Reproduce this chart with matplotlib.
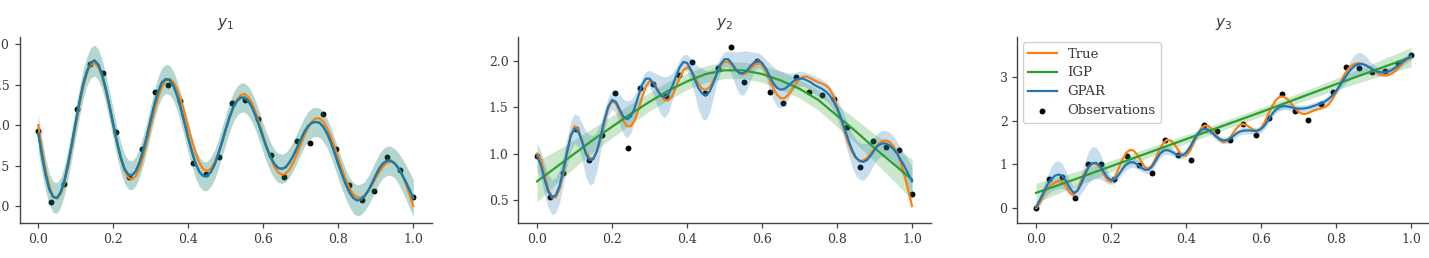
import numpy as np
import matplotlib
matplotlib.use("Agg")
import matplotlib.pyplot as plt

plt.rcParams['font.family'] = ['DejaVu Serif']
plt.rcParams['mathtext.fontset'] = 'dejavusans'

# ---------------- data ----------------
titles = ["$y_1$", "$y_2$", "$y_3$"]
legend_labels = ["True", "IGP", "GPAR", "Observations"]

x_grid = np.linspace(0, 1, 101)
x_obs = np.linspace(0, 1, 30)
x_igp = np.linspace(0, 1, 21)
x_igp3 = np.linspace(0, 1, 11)

true1 = [0.000, -0.303, -0.565, -0.763, -0.881, -0.909, -0.849, -0.710, -0.507, -0.262,
         0.000, 0.253, 0.474, 0.642, 0.743, 0.769, 0.720, 0.603, 0.431, 0.223,
         -0.002, -0.220, -0.411, -0.557, -0.646, -0.671, -0.630, -0.531, -0.383, -0.203,
         -0.008, 0.182, 0.348, 0.475, 0.553, 0.573, 0.536, 0.446, 0.313, 0.151,
         -0.026, -0.198, -0.351, -0.469, -0.543, -0.567, -0.540, -0.466, -0.353, -0.214,
         -0.063, 0.085, 0.215, 0.314, 0.372, 0.385, 0.350, 0.272, 0.159, 0.021,
         -0.130, -0.278, -0.410, -0.516, -0.585, -0.613, -0.600, -0.547, -0.463, -0.357,
         -0.240, -0.126, -0.028, 0.045, 0.084, 0.084, 0.044, -0.033, -0.141, -0.270,
         -0.410, -0.548, -0.675, -0.779, -0.853, -0.892, -0.897, -0.868, -0.813, -0.739,
         -0.656, -0.576, -0.509, -0.465, -0.451, -0.470, -0.524, -0.610, -0.724, -0.857,
         -1.000]
gpar1 = [-0.10, -0.38, -0.62, -0.80, -0.89, -0.90, -0.83, -0.68, -0.47, -0.22,
         0.04, 0.29, 0.51, 0.67, 0.77, 0.80, 0.75, 0.63, 0.45, 0.24,
         0.01, -0.21, -0.40, -0.54, -0.61, -0.62, -0.57, -0.46, -0.31, -0.13,
         0.07, 0.26, 0.42, 0.53, 0.57, 0.56, 0.49, 0.37, 0.21, 0.03,
         -0.16, -0.33, -0.48, -0.58, -0.63, -0.63, -0.58, -0.49, -0.36, -0.21,
         -0.05, 0.10, 0.22, 0.30, 0.34, 0.34, 0.30, 0.22, 0.11, -0.02,
         -0.16, -0.29, -0.40, -0.48, -0.53, -0.54, -0.52, -0.46, -0.38, -0.28,
         -0.18, -0.08, -0.01, 0.03, 0.04, 0.03, -0.02, -0.10, -0.21, -0.34,
         -0.48, -0.61, -0.73, -0.83, -0.90, -0.93, -0.92, -0.88, -0.81, -0.72,
         -0.62, -0.53, -0.47, -0.44, -0.44, -0.47, -0.53, -0.61, -0.70, -0.80,
         -0.90]
gpar1_hw = [0.22, 0.21, 0.20, 0.19, 0.19, 0.19, 0.18, 0.18, 0.18, 0.18,
            0.18, 0.18, 0.18, 0.18, 0.19, 0.19, 0.19, 0.18, 0.18, 0.18,
            0.18, 0.18, 0.18, 0.18, 0.18, 0.18, 0.18, 0.18, 0.18, 0.18,
            0.18, 0.18, 0.18, 0.18, 0.18, 0.18, 0.18, 0.18, 0.18, 0.18,
            0.18, 0.18, 0.18, 0.18, 0.18, 0.18, 0.18, 0.18, 0.18, 0.18,
            0.18, 0.18, 0.18, 0.18, 0.18, 0.18, 0.18, 0.18, 0.18, 0.18,
            0.18, 0.18, 0.18, 0.18, 0.18, 0.18, 0.18, 0.18, 0.18, 0.18,
            0.18, 0.18, 0.18, 0.18, 0.18, 0.18, 0.18, 0.18, 0.18, 0.18,
            0.18, 0.18, 0.18, 0.18, 0.19, 0.19, 0.19, 0.18, 0.18, 0.18,
            0.18, 0.18, 0.18, 0.18, 0.18, 0.18, 0.19, 0.20, 0.21, 0.22,
            0.23]
obs1 = [-0.07, -0.95, -0.73, 0.20, 0.76, 0.65, -0.09, -0.64, -0.30, 0.41,
        0.50, 0.30, -0.47, -0.60, -0.39, 0.27, 0.31, 0.07, -0.37, -0.64,
        -0.20, -0.22, 0.14, -0.30, -0.74, -0.92, -0.81, -0.40, -0.55, -0.89]

true2 = [1.000, 0.941, 0.773, 0.612, 0.525, 0.527, 0.616, 0.784, 1.002, 1.200,
         1.296, 1.261, 1.144, 1.021, 0.950, 0.951, 1.027, 1.167, 1.340, 1.491,
         1.565, 1.542, 1.454, 1.357, 1.297, 1.295, 1.356, 1.468, 1.605, 1.724,
         1.783, 1.769, 1.703, 1.627, 1.577, 1.573, 1.621, 1.710, 1.814, 1.898,
         1.931, 1.904, 1.834, 1.756, 1.701, 1.687, 1.718, 1.786, 1.872, 1.950,
         1.994, 1.992, 1.954, 1.905, 1.867, 1.856, 1.876, 1.918, 1.961, 1.980,
         1.957, 1.891, 1.799, 1.706, 1.635, 1.598, 1.599, 1.634, 1.693, 1.756,
         1.807, 1.832, 1.831, 1.812, 1.790, 1.771, 1.757, 1.738, 1.699, 1.626,
         1.517, 1.381, 1.240, 1.113, 1.015, 0.952, 0.921, 0.925, 0.954, 1.001,
         1.055, 1.103, 1.134, 1.143, 1.127, 1.083, 1.009, 0.901, 0.762, 0.600,
         0.433]
gpar2 = [0.97, 0.88, 0.72, 0.59, 0.53, 0.55, 0.65, 0.82, 1.02, 1.19,
         1.27, 1.24, 1.13, 1.00, 0.93, 0.94, 1.03, 1.19, 1.37, 1.51,
         1.58, 1.56, 1.48, 1.40, 1.37, 1.40, 1.49, 1.62, 1.74, 1.81,
         1.81, 1.76, 1.69, 1.63, 1.61, 1.64, 1.72, 1.83, 1.93, 1.99,
         1.98, 1.91, 1.81, 1.71, 1.65, 1.63, 1.67, 1.76, 1.87, 1.97,
         2.02, 2.02, 1.97, 1.91, 1.87, 1.87, 1.90, 1.95, 1.99, 2.01,
         1.98, 1.92, 1.84, 1.76, 1.71, 1.69, 1.70, 1.73, 1.77, 1.80,
         1.81, 1.81, 1.79, 1.77, 1.74, 1.72, 1.70, 1.67, 1.63, 1.57,
         1.49, 1.39, 1.27, 1.15, 1.04, 0.96, 0.92, 0.91, 0.93, 0.98,
         1.04, 1.09, 1.11, 1.11, 1.09, 1.05, 1.00, 0.93, 0.86, 0.78,
         0.70]
gpar2_hw = [0.14, 0.15, 0.17, 0.18, 0.19, 0.19, 0.18, 0.16, 0.15, 0.16,
            0.16, 0.17, 0.20, 0.25, 0.27, 0.26, 0.21, 0.15, 0.11, 0.10,
            0.10, 0.12, 0.16, 0.19, 0.20, 0.18, 0.14, 0.10, 0.08, 0.08,
            0.09, 0.12, 0.17, 0.21, 0.22, 0.20, 0.15, 0.10, 0.08, 0.08,
            0.09, 0.12, 0.17, 0.23, 0.27, 0.27, 0.23, 0.16, 0.10, 0.08,
            0.08, 0.09, 0.13, 0.19, 0.23, 0.24, 0.21, 0.15, 0.10, 0.08,
            0.08, 0.10, 0.14, 0.18, 0.20, 0.20, 0.18, 0.14, 0.10, 0.08,
            0.08, 0.08, 0.08, 0.09, 0.10, 0.10, 0.10, 0.10, 0.10, 0.10,
            0.11, 0.12, 0.14, 0.16, 0.18, 0.20, 0.20, 0.20, 0.18, 0.16,
            0.14, 0.14, 0.14, 0.14, 0.14, 0.14, 0.13, 0.13, 0.14, 0.15,
            0.16]
igp2 = [0.70, 0.85, 1.00, 1.15, 1.29, 1.43, 1.56, 1.68, 1.78, 1.86, 1.90,
        1.90, 1.86, 1.79, 1.70, 1.58, 1.41, 1.24, 1.06, 0.89, 0.72]
igp2_hw = [0.22, 0.18, 0.15, 0.13, 0.12, 0.11, 0.10, 0.10, 0.09, 0.09, 0.09,
           0.09, 0.09, 0.10, 0.10, 0.11, 0.12, 0.13, 0.15, 0.18, 0.22]
obs2 = [0.97, 0.53, 0.79, 1.27, 0.93, 1.20, 1.65, 1.06, 1.71, 1.75,
        1.62, 1.85, 1.99, 1.65, 1.92, 2.15, 1.77, 2.00, 1.67, 1.55,
        1.83, 1.67, 1.63, 1.59, 1.29, 0.85, 1.14, 1.07, 1.04, 0.56]

true3 = [0.000, 0.116, 0.307, 0.446, 0.527, 0.585, 0.624, 0.605, 0.498, 0.352,
         0.300, 0.411, 0.617, 0.811, 0.944, 1.012, 1.012, 0.935, 0.789, 0.644,
         0.600, 0.704, 0.905, 1.111, 1.261, 1.333, 1.319, 1.223, 1.075, 0.941,
         0.900, 0.988, 1.166, 1.358, 1.502, 1.567, 1.546, 1.450, 1.318, 1.213,
         1.201, 1.305, 1.486, 1.677, 1.822, 1.893, 1.881, 1.798, 1.673, 1.559,
         1.508, 1.545, 1.650, 1.778, 1.879, 1.925, 1.910, 1.852, 1.790, 1.771,
         1.833, 1.976, 2.163, 2.343, 2.479, 2.551, 2.555, 2.499, 2.403, 2.293,
         2.204, 2.159, 2.161, 2.194, 2.233, 2.262, 2.283, 2.312, 2.374, 2.488,
         2.655, 2.845, 3.025, 3.165, 3.258, 3.308, 3.321, 3.307, 3.270, 3.216,
         3.154, 3.096, 3.054, 3.037, 3.049, 3.089, 3.157, 3.245, 3.339, 3.410,
         3.433]
gpar3 = [0.03, 0.18, 0.36, 0.53, 0.66, 0.74, 0.77, 0.74, 0.62, 0.46,
         0.35, 0.39, 0.55, 0.76, 0.94, 1.03, 1.04, 0.97, 0.84, 0.71,
         0.64, 0.66, 0.76, 0.89, 1.00, 1.05, 1.05, 1.00, 0.93, 0.88,
         0.88, 0.96, 1.10, 1.24, 1.32, 1.33, 1.30, 1.25, 1.21, 1.21,
         1.27, 1.39, 1.55, 1.69, 1.79, 1.82, 1.79, 1.72, 1.64, 1.58,
         1.55, 1.56, 1.61, 1.68, 1.74, 1.77, 1.78, 1.78, 1.77, 1.77,
         1.81, 1.90, 2.03, 2.16, 2.26, 2.32, 2.34, 2.33, 2.31, 2.29,
         2.28, 2.28, 2.29, 2.31, 2.34, 2.37, 2.40, 2.44, 2.50, 2.58,
         2.68, 2.80, 2.94, 3.07, 3.18, 3.26, 3.30, 3.30, 3.27, 3.22,
         3.17, 3.13, 3.11, 3.11, 3.13, 3.17, 3.23, 3.30, 3.37, 3.43,
         3.48]
gpar3_hw = [0.10, 0.12, 0.16, 0.22, 0.28, 0.32, 0.32, 0.28, 0.22, 0.16,
            0.14, 0.16, 0.22, 0.30, 0.36, 0.38, 0.36, 0.30, 0.22, 0.15,
            0.10, 0.09, 0.09, 0.10, 0.12, 0.13, 0.12, 0.10, 0.09, 0.08,
            0.08, 0.09, 0.10, 0.10, 0.10, 0.10, 0.09, 0.08, 0.08, 0.08,
            0.08, 0.09, 0.10, 0.10, 0.10, 0.09, 0.08, 0.08, 0.08, 0.08,
            0.08, 0.08, 0.08, 0.08, 0.08, 0.08, 0.08, 0.08, 0.08, 0.08,
            0.08, 0.08, 0.08, 0.08, 0.08, 0.08, 0.08, 0.08, 0.08, 0.08,
            0.08, 0.08, 0.08, 0.08, 0.08, 0.08, 0.08, 0.08, 0.08, 0.08,
            0.08, 0.10, 0.13, 0.18, 0.23, 0.26, 0.27, 0.25, 0.20, 0.15,
            0.11, 0.10, 0.09, 0.09, 0.09, 0.09, 0.09, 0.09, 0.09, 0.09,
            0.09]
igp3 = [0.35, 0.65, 0.96, 1.27, 1.58, 1.89, 2.20, 2.52, 2.84, 3.15, 3.46]
igp3_hw = [0.22, 0.17, 0.13, 0.11, 0.10, 0.10, 0.10, 0.11, 0.13, 0.17, 0.22]
obs3 = [0.01, 0.66, 0.72, 0.24, 1.02, 1.02, 0.67, 1.19, 0.98, 0.80,
        1.57, 1.21, 1.10, 1.90, 1.76, 1.55, 1.93, 1.67, 2.06, 2.62,
        2.22, 2.03, 2.38, 2.67, 3.24, 3.21, 3.11, 3.14, 3.33, 3.50]

ylims = [(-1.21, 1.09), (0.25, 2.26), (-0.34, 3.92)]
yticks = [[-1.0, -0.5, 0.0, 0.5, 1.0], [0.5, 1.0, 1.5, 2.0], [0, 1, 2, 3]]

# ---------------- style ----------------
C_TRUE = '#ff7f0e'
C_IGP = '#2ca02c'
C_GPAR = '#1f77b4'
TXT = '#3a3a3a'

W, H = 1429, 258
fig = plt.figure(figsize=(W / 100, H / 100), dpi=100)
bottom = 35 / H
height = 186 / H
width = 412.5 / W
lefts = [19.5 / W, 518.3 / W, 1017.3 / W]
axes = [fig.add_axes([l, bottom, width, height]) for l in lefts]

panels = [
    dict(true=true1, gpar=gpar1, gpar_hw=gpar1_hw, igp_x=x_grid, igp=gpar1, igp_hw=gpar1_hw, obs=obs1, a=0.19),
    dict(true=true2, gpar=gpar2, gpar_hw=gpar2_hw, igp_x=x_igp, igp=igp2, igp_hw=igp2_hw, obs=obs2, a=0.24),
    dict(true=true3, gpar=gpar3, gpar_hw=gpar3_hw, igp_x=x_igp3, igp=igp3, igp_hw=igp3_hw, obs=obs3, a=0.24),
]

for i, (ax, p) in enumerate(zip(axes, panels)):
    igp = np.array(p['igp']); igp_hw = np.array(p['igp_hw'])
    gp = np.array(p['gpar']); gp_hw = np.array(p['gpar_hw'])
    ax.scatter(x_obs, p['obs'], s=18, color='black', zorder=1, linewidths=0,
               label=legend_labels[3])
    ax.fill_between(p['igp_x'], igp - igp_hw, igp + igp_hw, color=C_IGP,
                    alpha=p['a'], linewidth=0, zorder=2)
    ax.fill_between(x_grid, gp - gp_hw, gp + gp_hw, color=C_GPAR,
                    alpha=p['a'], linewidth=0, zorder=2)
    ax.plot(x_grid, p['true'], color=C_TRUE, lw=1.6, zorder=3, label=legend_labels[0])
    ax.plot(p['igp_x'], igp, color=C_IGP, lw=1.6, zorder=3, label=legend_labels[1])
    ax.plot(x_grid, gp, color=C_GPAR, lw=1.6, zorder=4, label=legend_labels[2])

    ax.set_xlim(-0.05, 1.05)
    ax.set_ylim(*ylims[i])
    ax.set_xticks([0.0, 0.2, 0.4, 0.6, 0.8, 1.0])
    ax.set_yticks(yticks[i])
    if i == 2:
        ax.set_yticklabels([str(t) for t in yticks[i]])
    ax.set_title(titles[i], fontsize=11, color=TXT, pad=7)
    for s in ['top', 'right']:
        ax.spines[s].set_visible(False)
    for s in ['left', 'bottom']:
        ax.spines[s].set_color('#444444')
        ax.spines[s].set_linewidth(1.0)
    ax.tick_params(axis='both', labelsize=9, colors='#444444', labelcolor=TXT,
                   length=3.5, width=0.9)

h, l = axes[2].get_legend_handles_labels()
order = [l.index(n) for n in legend_labels]
leg = axes[2].legend([h[j] for j in order], [l[j] for j in order], loc='upper left',
                     fontsize=9.5, frameon=True, framealpha=0.9, edgecolor='#cccccc',
                     borderaxespad=0.4, handlelength=2.2, labelspacing=0.45)
for t in leg.get_texts():
    t.set_color(TXT)

fig.savefig('out.png', dpi=100)
